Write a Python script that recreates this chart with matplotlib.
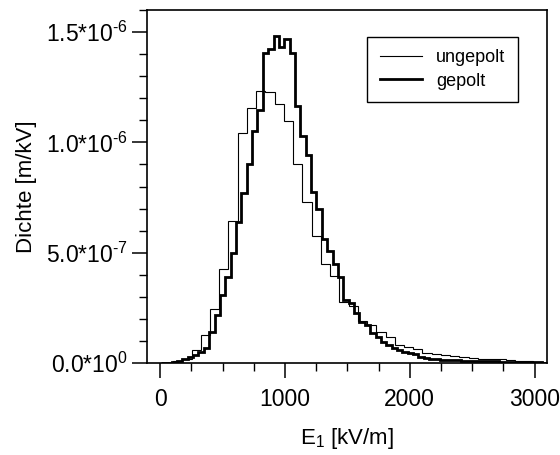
import numpy as np
import matplotlib
matplotlib.use('Agg')
import matplotlib.pyplot as plt
from matplotlib.lines import Line2D
from matplotlib.ticker import MultipleLocator

plt.rcParams['font.family'] = ['Liberation Sans', 'DejaVu Sans']
plt.rcParams['mathtext.fontset'] = 'custom'
plt.rcParams['mathtext.rm'] = 'Liberation Sans'
plt.rcParams['mathtext.it'] = 'Liberation Sans'

# ungepolt: Bins ab 30 kV/m, Breite 74 kV/m, Werte in 1e-7 m/kV
ungepolt_start = 30.0
ungepolt_breite = 74.0
ungepolt = [0.02, 0.08, 0.20, 0.59, 1.27, 2.47, 4.24, 6.43, 10.42, 11.57,
            12.32, 12.28, 11.75, 10.95, 9.00, 7.30, 5.77, 4.48, 3.94, 2.77,
            2.58, 1.92, 1.72, 1.42, 1.19, 0.81, 0.74, 0.62, 0.47, 0.39,
            0.34, 0.31, 0.27, 0.23, 0.20, 0.18, 0.16, 0.12, 0.10, 0.07,
            0.05, 0.02]

# gepolt: Bins ab 6 kV/m, Breite 43 kV/m
gepolt_start = 6.0
gepolt_breite = 43.0
gepolt = [0.01, 0.02, 0.04, 0.09, 0.17, 0.26, 0.36, 0.51, 0.66, 1.42,
          2.17, 3.08, 3.91, 5.00, 6.39, 7.71, 9.04, 10.51, 11.45, 14.06,
          14.24, 14.81, 14.31, 14.69, 14.06, 11.65, 10.27, 9.41, 7.75, 7.00,
          5.60, 5.08, 4.51, 3.91, 2.85, 2.70, 2.25, 1.87, 1.72, 1.34,
          1.16, 0.96, 0.81, 0.66, 0.59, 0.51, 0.47, 0.41, 0.26, 0.21,
          0.18, 0.16, 0.15, 0.14, 0.13, 0.12, 0.11, 0.10, 0.10, 0.09,
          0.08, 0.08, 0.07, 0.06, 0.06, 0.05, 0.05, 0.04, 0.04, 0.03,
          0.03, 0.02]

y_ticks = [0.0, 5e-7, 1.0e-6, 1.5e-6]
y_labels = [r'0.0*10$^{0}$', r'5.0*10$^{\text{-}7}$', r'1.0*10$^{\text{-}6}$', r'1.5*10$^{\text{-}6}$']
x_ticks = [0, 1000, 2000, 3000]

u_vals = np.array(ungepolt) * 1e-7
g_vals = np.array(gepolt) * 1e-7
u_edges = ungepolt_start + ungepolt_breite * np.arange(len(ungepolt) + 1)
g_edges = gepolt_start + gepolt_breite * np.arange(len(gepolt) + 1)

fig = plt.figure(figsize=(5.6, 4.55), dpi=100)
ax = fig.add_axes([0.2625, 0.2022, 0.7143, 0.7758])

ax.stairs(u_vals, u_edges, color='black', linewidth=0.8)
ax.stairs(g_vals, g_edges, color='black', linewidth=2.0)

ax.set_xlim(-105, 3100)
ax.set_ylim(0, 1.6e-6)
ax.set_xticks(x_ticks)
ax.xaxis.set_minor_locator(MultipleLocator(250))
ax.set_yticks(y_ticks)
ax.set_yticklabels(y_labels)
ax.yaxis.set_minor_locator(MultipleLocator(1e-7))

ax.tick_params(which='major', direction='out', length=11, width=1.1, labelsize=16.5)
ax.tick_params(axis='x', which='major', pad=7)
ax.tick_params(axis='y', which='major', pad=3)
ax.tick_params(which='minor', direction='out', length=6, width=1.0)
for s in ax.spines.values():
    s.set_linewidth(1.2)

ax.set_xlabel(r'E$_1$ [kV/m]', fontsize=16, labelpad=11)
ax.set_ylabel('Dichte [m/kV]', fontsize=16, labelpad=6)

handles = [Line2D([], [], color='black', linewidth=0.8),
           Line2D([], [], color='black', linewidth=2.0)]
leg = ax.legend(handles, ['ungepolt', 'gepolt'], loc='upper right',
                bbox_to_anchor=(0.95, 0.95), fontsize=13, fancybox=False,
                framealpha=1, edgecolor='black', handlelength=2.3,
                borderpad=0.7, labelspacing=0.35, handletextpad=0.8)
leg.get_frame().set_linewidth(1.0)

fig.savefig('out.png', dpi=100)
